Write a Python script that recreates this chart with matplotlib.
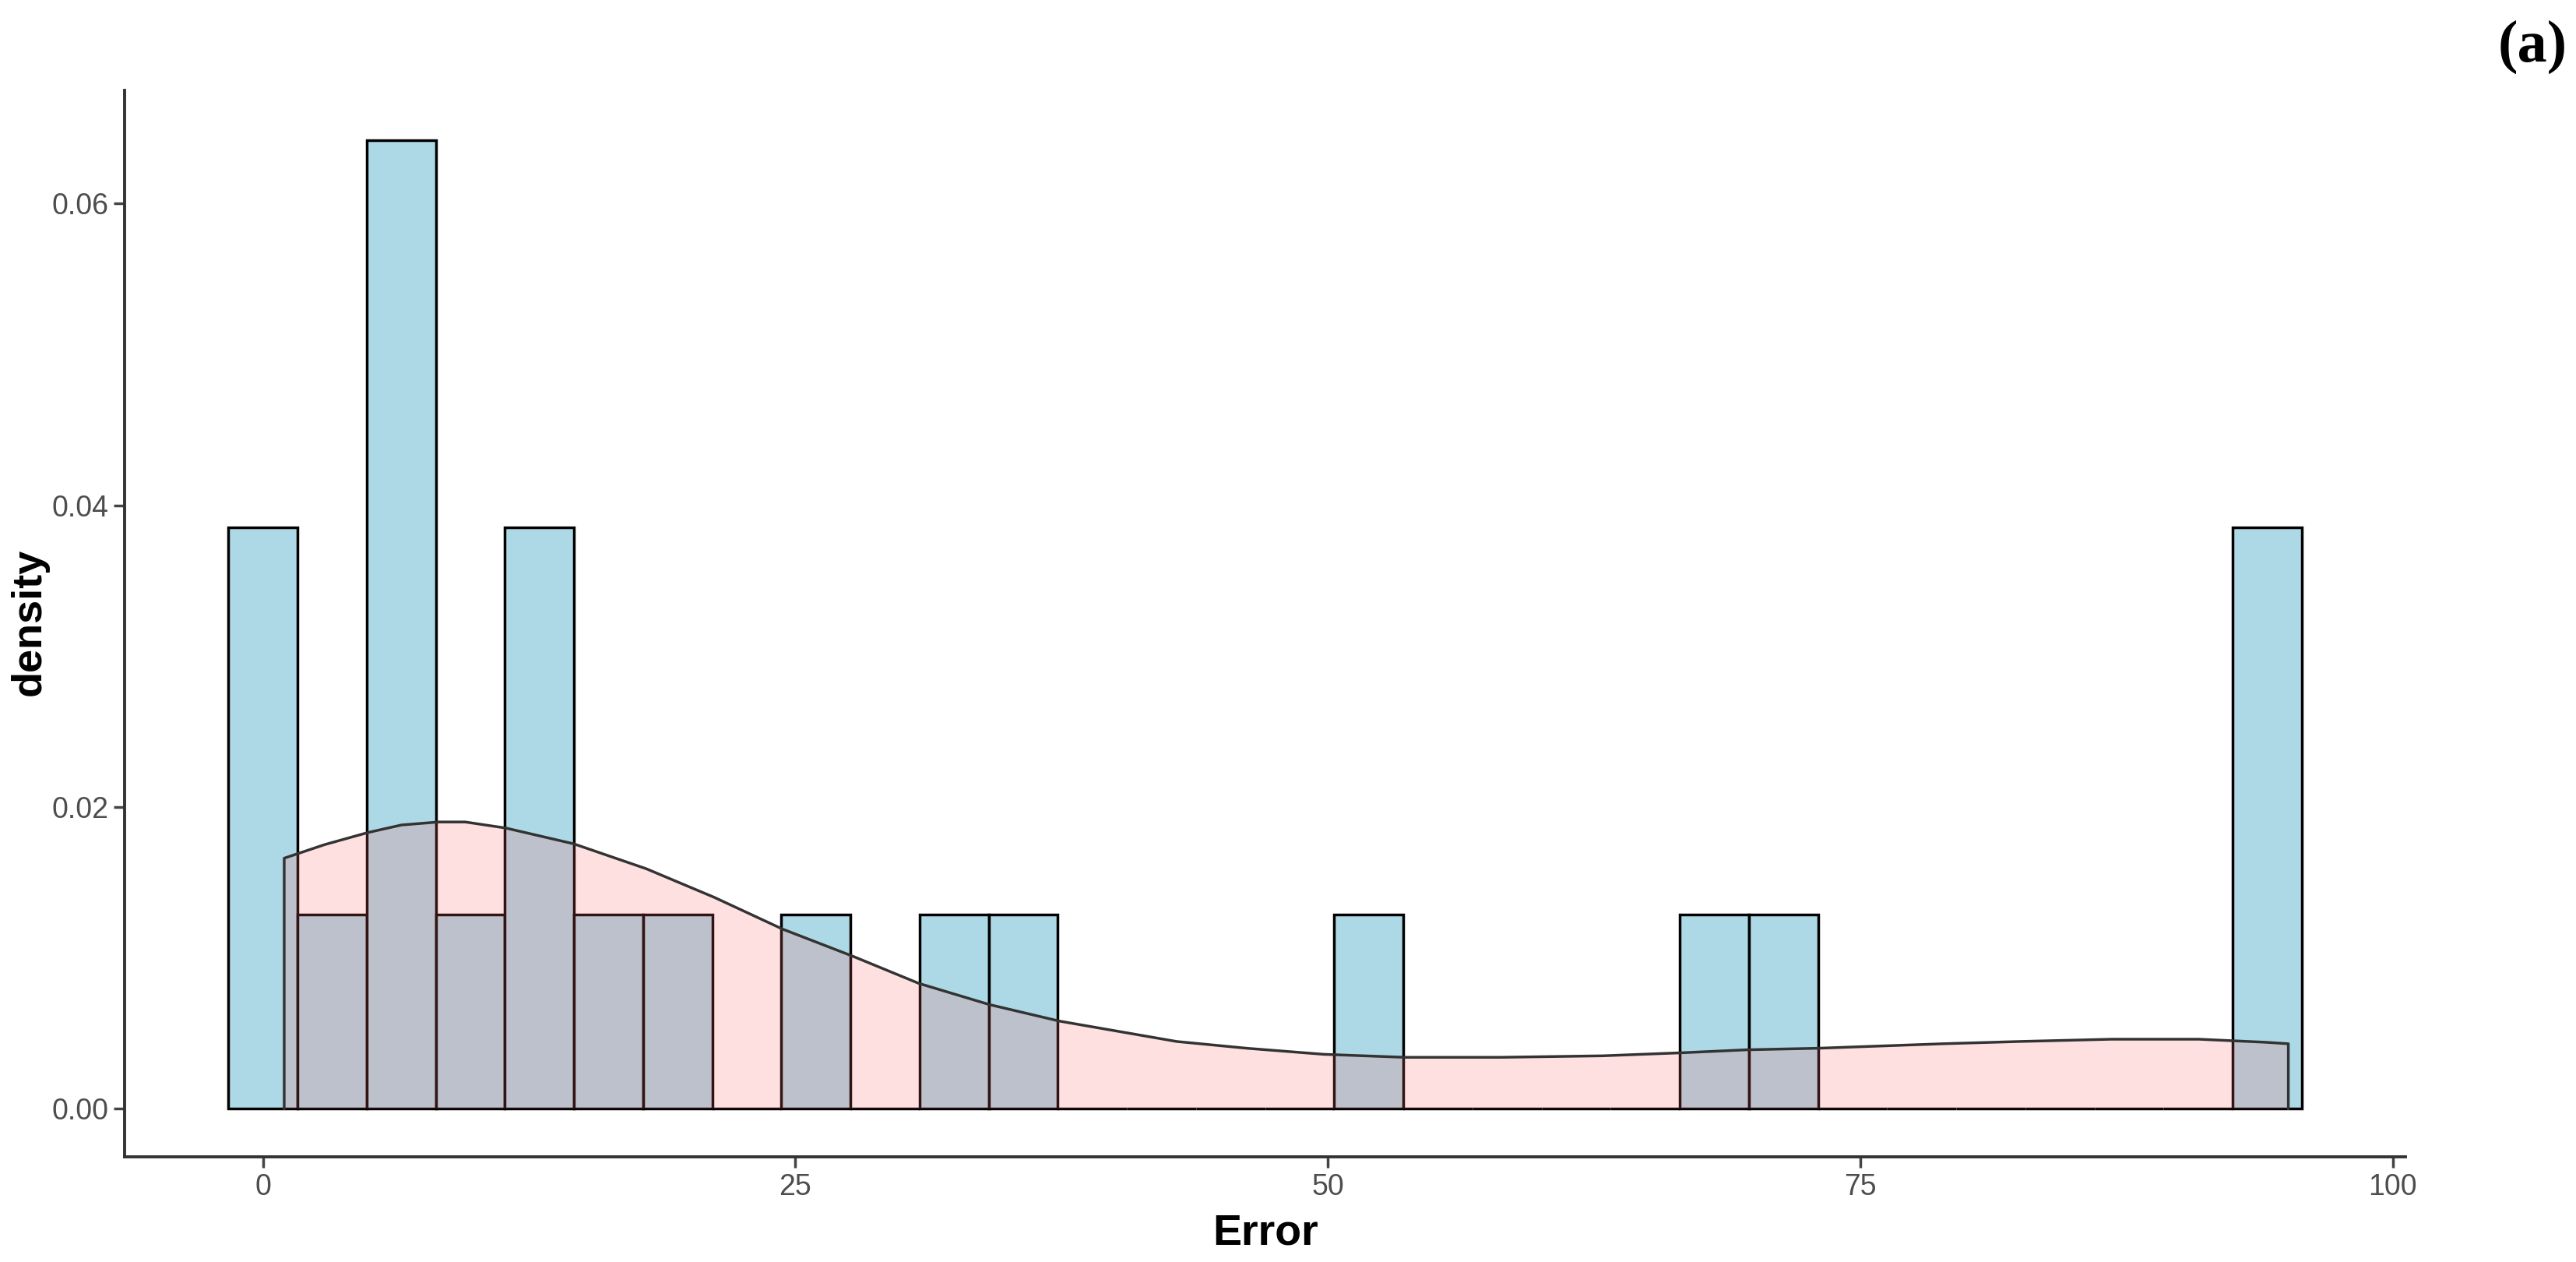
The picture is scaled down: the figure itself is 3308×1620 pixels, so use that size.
import matplotlib
matplotlib.use("Agg")
import matplotlib.pyplot as plt
import numpy as np

# histogram: 30 bins, counts (n = 24)
bin_start = -1.62
bin_width = 3.245
counts = [3, 1, 5, 1, 3, 1, 1, 0, 1, 0,
          1, 1, 0, 0, 0, 0, 1, 0, 0, 0,
          0, 1, 1, 0, 0, 0, 0, 0, 0, 3]
n_obs = 24

# density curve
dens_x = [1.0, 2.9, 4.93, 6.5, 8.24, 9.5, 11.4, 14.6, 18.0, 21.2, 24.4, 27.7,
          30.8, 34.1, 37.4, 42.9, 46.2, 49.8, 53.6, 58.1, 62.9, 66.6, 69.7,
          73.0, 78.9, 82.5, 86.8, 90.9, 94.0, 95.1]
dens_y = [0.0166, 0.0175, 0.0183, 0.0188, 0.0190, 0.0190, 0.0186, 0.01755,
          0.0159, 0.0140, 0.0119, 0.0101, 0.0083, 0.0069, 0.0058, 0.00445,
          0.0040, 0.0036, 0.0034, 0.0034, 0.0035, 0.0037, 0.0039, 0.0040,
          0.0043, 0.00445, 0.0046, 0.0046, 0.0044, 0.0043]

xticks = [0, 25, 50, 75, 100]
yticks = [0.00, 0.02, 0.04, 0.06]

fig = plt.figure(figsize=(33.08, 16.20), dpi=100)
ax = fig.add_axes([0.0484, 0.0833, 0.8854, 0.8451])

left = bin_start + bin_width * np.arange(len(counts))
heights = np.array(counts) / (n_obs * bin_width)
ax.bar(left, heights, width=bin_width, align='edge', color='#ADD8E6',
       edgecolor='black', linewidth=2.5, zorder=2)

px = [dens_x[0]] + dens_x + [dens_x[-1]]
py = [0] + dens_y + [0]
ax.fill(px, py, facecolor='#FF6666', alpha=0.2, edgecolor='none', zorder=3)
ax.plot(px, py, color='#333333', linewidth=2.5, zorder=4)

ax.set_xlim(-6.49, 100.6)
ax.set_ylim(-0.0032, 0.0675)
ax.set_xticks(xticks)
ax.set_xticklabels([str(t) for t in xticks])
ax.set_yticks(yticks)
ax.set_yticklabels(['%.2f' % t for t in yticks])

for s in ['top', 'right']:
    ax.spines[s].set_visible(False)
for s in ['left', 'bottom']:
    ax.spines[s].set_linewidth(2.8)
    ax.spines[s].set_color('#333333')

tick_font = ['Liberation Sans Narrow', 'Liberation Sans', 'DejaVu Sans']
ax.tick_params(length=10, width=2.5, color='#444444', labelcolor='#4D4D4D',
               labelsize=27, pad=5)
for lab in ax.get_xticklabels() + ax.get_yticklabels():
    lab.set_family(tick_font)

label_font = ['Liberation Sans', 'DejaVu Sans']
fig.text(0.4912, 0.0136, 'Error', fontsize=40, fontweight='bold',
         family=label_font, ha='center', va='baseline')
fig.text(0.0115, 0.507, 'density', fontsize=39, fontweight='bold',
         family=label_font, ha='center', va='center', rotation=90)

fig.text(0.9967, 0.963, '(a)', fontsize=55, fontweight='bold',
         family=['Liberation Serif', 'DejaVu Serif'], ha='right', va='center')

fig.savefig('out.png', dpi=100)
